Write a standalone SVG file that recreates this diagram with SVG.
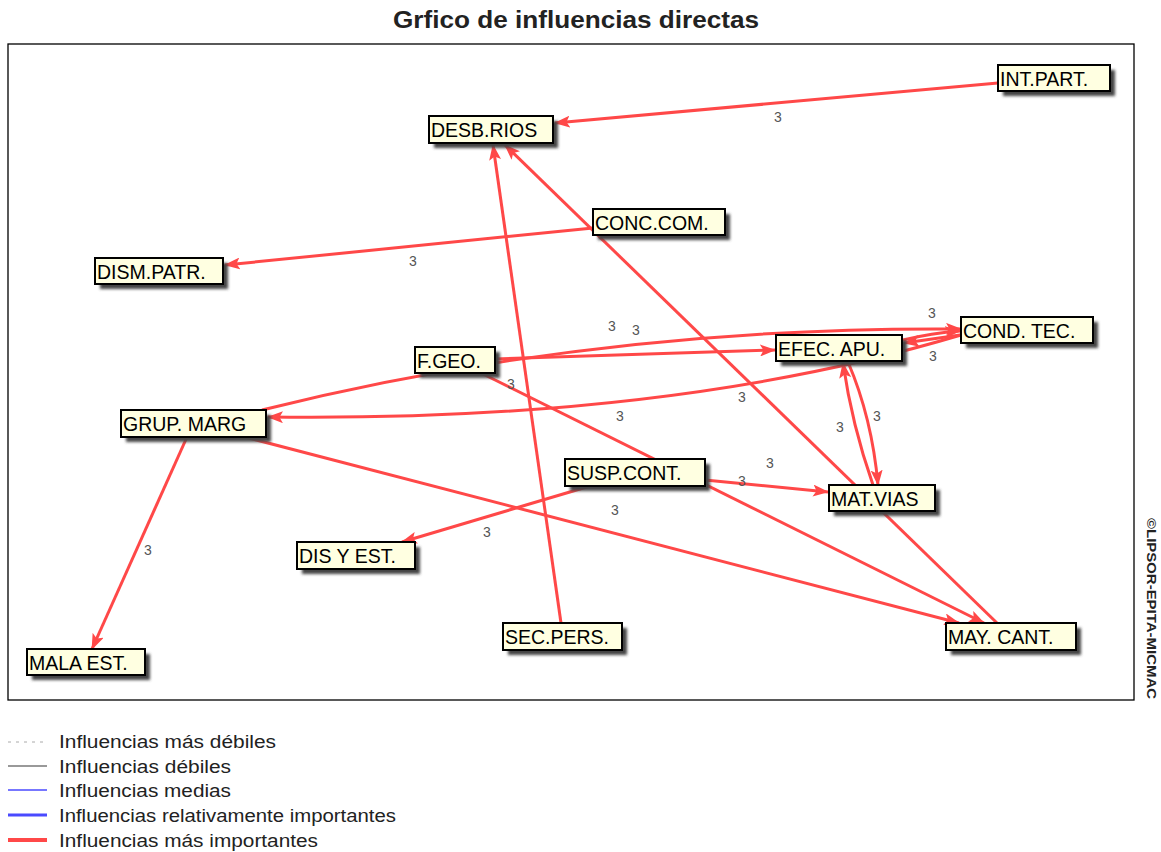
<svg xmlns="http://www.w3.org/2000/svg" width="1161" height="852" viewBox="0 0 1161 852">
<style>
.title{font-family:"Liberation Sans",Arial,sans-serif;font-weight:bold;font-size:23px;fill:#222}
.frame{fill:none;stroke:#000;stroke-width:1.3}
.e{fill:none;stroke:#ff4848;stroke-width:3;marker-end:url(#ah)}
.lbl{font-family:"Liberation Sans",Arial,sans-serif;font-size:14px;fill:#555;text-anchor:middle}
.box{fill:#ffffe1;stroke:#000;stroke-width:2}
.sh{fill:#444;filter:url(#blur)}
.nt{font-family:"Liberation Sans",Arial,sans-serif;font-size:19.5px;fill:#000}
.lg{font-family:"Liberation Sans",Arial,sans-serif;font-size:17.5px;fill:#222}
.copy{font-family:"Liberation Sans",Arial,sans-serif;font-size:13px;font-weight:bold;fill:#222}
</style>
<defs>
<marker id="ah" markerUnits="userSpaceOnUse" markerWidth="16" markerHeight="12" refX="15" refY="6" orient="auto">
<path d="M0,0 L16,6 L0,12 L3.5,6 z" fill="#ff4848"/>
</marker>
<filter id="blur" x="-10%" y="-30%" width="120%" height="160%"><feGaussianBlur stdDeviation="1.5"/></filter>
</defs>
<rect width="1161" height="852" fill="#fff"/>
<text class="title" x="393" y="28" textLength="366" lengthAdjust="spacingAndGlyphs">Grfico de influencias directas</text>
<rect class="frame" x="8" y="44" width="1126" height="656"/>
<text class="copy" transform="translate(1147,518) rotate(90)" textLength="181" lengthAdjust="spacingAndGlyphs">©LIPSOR-EPITA-MICMAC</text>

<g id="connectors">
<path class="e" d="M998,83 L555,123"/>
<path class="e" d="M593,228 L225,265"/>
<path class="e" d="M561,623 L493,145"/>
<path class="e" d="M997,623 L505,145"/>
<path class="e" d="M495,359 L775,350"/>
<path class="e" d="M262,410 Q600,326 961,329"/>
<path class="e" d="M961,335 Q670,422 268,417"/>
<path class="e" d="M903,340 Q932,333 960,331"/>
<path class="e" d="M960,335 Q932,339 904,343"/>
<path class="e" d="M848,362 Q872,418 878,485"/>
<path class="e" d="M873,485 Q852,425 843,363"/>
<path class="e" d="M705,480 L828,492"/>
<path class="e" d="M590,486 L402,542"/>
<path class="e" d="M481,373 L984,623"/>
<path class="e" d="M245,437 L959,623"/>
<path class="e" d="M187,437 L92,649"/>
</g>
<g id="edge-labels">
<text class="lbl" x="778" y="122">3</text>
<text class="lbl" x="413" y="266">3</text>
<text class="lbl" x="612" y="331">3</text>
<text class="lbl" x="636" y="335">3</text>
<text class="lbl" x="932" y="318">3</text>
<text class="lbl" x="933" y="361">3</text>
<text class="lbl" x="511" y="389">3</text>
<text class="lbl" x="742" y="402">3</text>
<text class="lbl" x="620" y="421">3</text>
<text class="lbl" x="877" y="421">3</text>
<text class="lbl" x="840" y="432">3</text>
<text class="lbl" x="770" y="468">3</text>
<text class="lbl" x="742" y="486">3</text>
<text class="lbl" x="615" y="515">3</text>
<text class="lbl" x="487" y="537">3</text>
<text class="lbl" x="148" y="555">3</text>
</g>

<g id="node-int-part"><rect class="sh" x="1003" y="70" width="112" height="26"/><rect class="box" x="998" y="65" width="112" height="26"/><text class="nt" x="1000" y="86">INT.PART.</text></g>
<g id="node-desb-rios"><rect class="sh" x="434" y="121" width="124" height="27"/><rect class="box" x="429" y="116" width="124" height="27"/><text class="nt" x="431" y="137">DESB.RIOS</text></g>
<g id="node-conc-com"><rect class="sh" x="598" y="214" width="132" height="26"/><rect class="box" x="593" y="209" width="132" height="26"/><text class="nt" x="595" y="230">CONC.COM.</text></g>
<g id="node-dism-patr"><rect class="sh" x="100" y="263" width="128" height="26"/><rect class="box" x="95" y="258" width="128" height="26"/><text class="nt" x="97" y="279">DISM.PATR.</text></g>
<g id="node-f-geo"><rect class="sh" x="420" y="352" width="80" height="26"/><rect class="box" x="415" y="347" width="80" height="26"/><text class="nt" x="417" y="368">F.GEO.</text></g>
<g id="node-efec-apu"><rect class="sh" x="781" y="340" width="126" height="26"/><rect class="box" x="776" y="335" width="126" height="26"/><text class="nt" x="778" y="356">EFEC. APU.</text></g>
<g id="node-cond-tec"><rect class="sh" x="966" y="322" width="132" height="26"/><rect class="box" x="961" y="317" width="132" height="26"/><text class="nt" x="963" y="338">COND. TEC.</text></g>
<g id="node-grup-marg"><rect class="sh" x="126" y="415" width="145" height="27"/><rect class="box" x="121" y="410" width="145" height="27"/><text class="nt" x="123" y="431">GRUP. MARG</text></g>
<g id="node-susp-cont"><rect class="sh" x="570" y="464" width="140" height="27"/><rect class="box" x="565" y="459" width="140" height="27"/><text class="nt" x="567" y="480">SUSP.CONT.</text></g>
<g id="node-mat-vias"><rect class="sh" x="834" y="490" width="106" height="26"/><rect class="box" x="829" y="485" width="106" height="26"/><text class="nt" x="831" y="506">MAT.VIAS</text></g>
<g id="node-dis-y-est"><rect class="sh" x="302" y="547" width="118" height="27"/><rect class="box" x="297" y="542" width="118" height="27"/><text class="nt" x="299" y="563">DIS Y EST.</text></g>
<g id="node-sec-pers"><rect class="sh" x="508" y="628" width="119" height="27"/><rect class="box" x="503" y="623" width="119" height="27"/><text class="nt" x="505" y="644">SEC.PERS.</text></g>
<g id="node-may-cant"><rect class="sh" x="951" y="628" width="130" height="27"/><rect class="box" x="946" y="623" width="130" height="27"/><text class="nt" x="948" y="644">MAY. CANT.</text></g>
<g id="node-mala-est"><rect class="sh" x="32" y="654" width="118" height="26"/><rect class="box" x="27" y="649" width="118" height="26"/><text class="nt" x="29" y="670">MALA EST.</text></g>

<g id="legend">
<line x1="8" y1="742" x2="44" y2="742" stroke="#aaa" stroke-width="1" stroke-dasharray="3,5"/>
<line x1="8" y1="766" x2="47" y2="766" stroke="#777" stroke-width="1.3"/>
<line x1="8" y1="790" x2="47" y2="790" stroke="#4a4aff" stroke-width="1.3"/>
<line x1="8" y1="815" x2="47" y2="815" stroke="#4a4aff" stroke-width="3"/>
<line x1="8" y1="840" x2="47" y2="840" stroke="#ff4848" stroke-width="4"/>
<text class="lg" x="59" y="748" textLength="217" lengthAdjust="spacingAndGlyphs">Influencias más débiles</text>
<text class="lg" x="59" y="773" textLength="172" lengthAdjust="spacingAndGlyphs">Influencias débiles</text>
<text class="lg" x="59" y="797" textLength="172" lengthAdjust="spacingAndGlyphs">Influencias medias</text>
<text class="lg" x="59" y="822" textLength="337" lengthAdjust="spacingAndGlyphs">Influencias relativamente importantes</text>
<text class="lg" x="59" y="847" textLength="259" lengthAdjust="spacingAndGlyphs">Influencias más importantes</text>
</g>
</svg>
